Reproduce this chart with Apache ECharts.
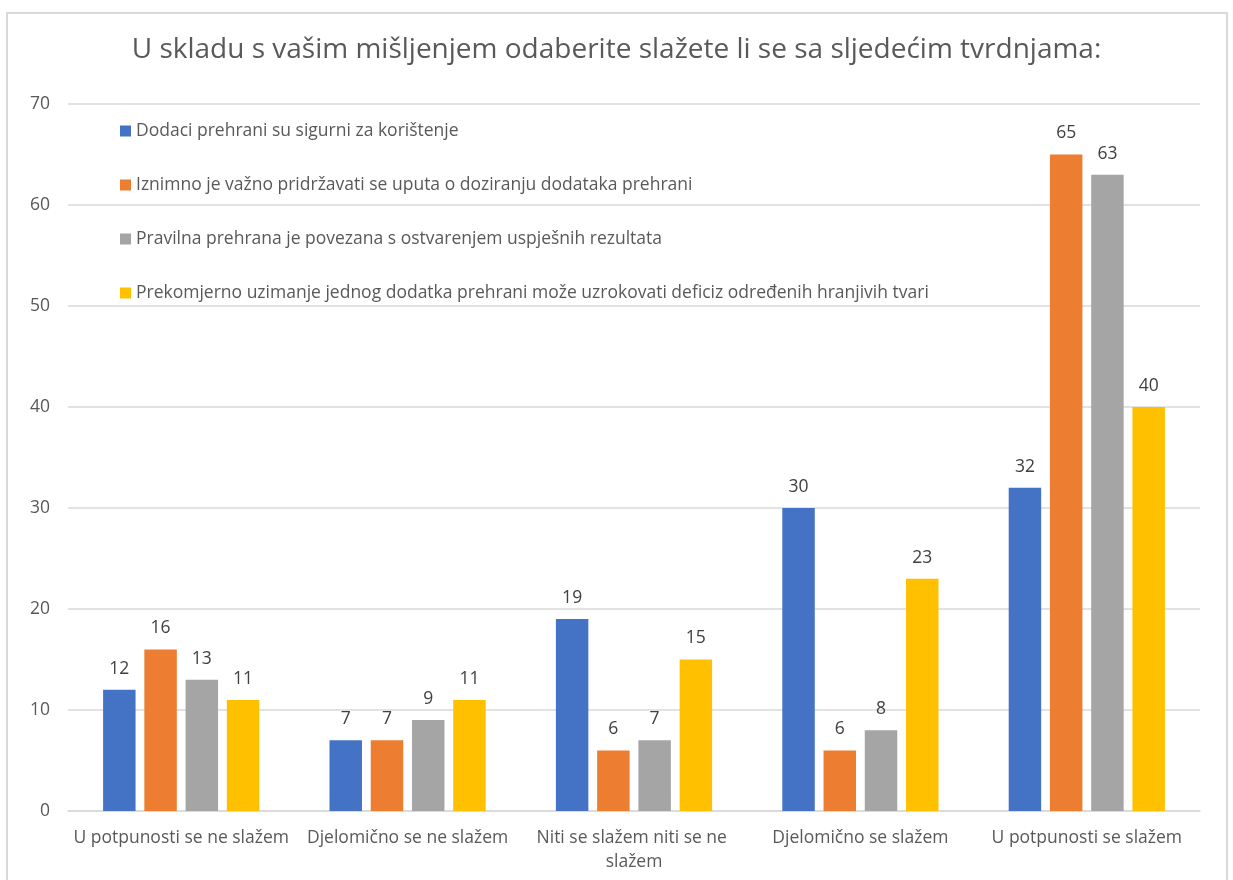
<!DOCTYPE html>
<html>
<head>
<meta charset="utf-8">
<script src="https://cdn.jsdelivr.net/npm/echarts@6/dist/echarts.min.js"></script>
<style>
  html, body { margin: 0; padding: 0; background: #fff; }
  #chart { width: 1233px; height: 880px; }
</style>
</head>
<body>
<div id="chart"></div>
<script>
// kategorije odgovora
const categories = [
    'U potpunosti se ne slažem',
    'Djelomično se ne slažem',
    'Niti se slažem niti se ne slažem',
    'Djelomično se slažem',
    'U potpunosti se slažem'
]

const seriesNames = [
    'Dodaci prehrani su sigurni za korištenje',
    'Iznimno je važno pridržavati se uputa o doziranju dodataka prehrani',
    'Pravilna prehrana je povezana s ostvarenjem uspješnih rezultata',
    'Prekomjerno uzimanje jednog dodatka prehrani može uzrokovati deficiz određenih hranjivih tvari'
]

const sigurni   = [12, 7, 19, 30, 32]
const doziranje = [16, 7, 6, 6, 65]
const prehrana  = [13, 9, 7, 8, 63]
const deficit   = [11, 11, 15, 23, 40]

const colors = ['#4472C4', '#ED7D31', '#A5A5A5', '#FFC000']
const values = [sigurni, doziranje, prehrana, deficit]

const font = '"Open Sans", "Noto Sans", sans-serif'

let chart = echarts.init(document.getElementById('chart'))

let options = {
    textStyle: { fontFamily: font },
    graphic: [{
        type: 'rect',
        shape: { x: 7, y: 13, width: 1220, height: 900 },
        style: { fill: 'none', stroke: '#d9d9d9', lineWidth: 2 },
        silent: true
    }],
    title: {
        text: 'U skladu s vašim mišljenjem odaberite slažete li se sa sljedećim tvrdnjama:',
        left: 'center',
        top: 31,
        textStyle: { fontFamily: font, fontSize: 28, fontWeight: 'normal', color: '#595959' }
    },
    legend: {
        orient: 'vertical',
        left: 115,
        top: 117,
        itemWidth: 11,
        itemHeight: 11,
        itemGap: 36,
        icon: 'rect',
        textStyle: { fontFamily: font, fontSize: 17.5, color: '#595959' },
        data: seriesNames
    },
    grid: { left: 68, right: 33, top: 104, bottom: 69, containLabel: false },
    xAxis: {
        type: 'category',
        data: categories,
        axisLine: { lineStyle: { color: '#d9d9d9', width: 1.5 } },
        axisTick: { show: false },
        axisLabel: {
            fontFamily: font, fontSize: 17.5, color: '#595959', margin: 15,
            interval: 0, width: 238, overflow: 'break', lineHeight: 24
        }
    },
    yAxis: {
        type: 'value',
        min: 0,
        max: 70,
        interval: 10,
        axisLine: { show: false },
        axisTick: { show: false },
        splitLine: { lineStyle: { color: '#d9d9d9', width: 1.5 } },
        axisLabel: { fontFamily: font, fontSize: 17.5, color: '#595959', margin: 18 }
    },
    series: seriesNames.map((name, i) => ({
        name: name,
        type: 'bar',
        data: values[i],
        barGap: '27%',
        barCategoryGap: '31%',
        itemStyle: { color: colors[i] },
        label: {
            show: true,
            position: 'top',
            distance: 12,
            fontFamily: font,
            fontSize: 17.5,
            color: '#404040'
        }
    }))
}

chart.setOption(options)
</script>
</body>
</html>
